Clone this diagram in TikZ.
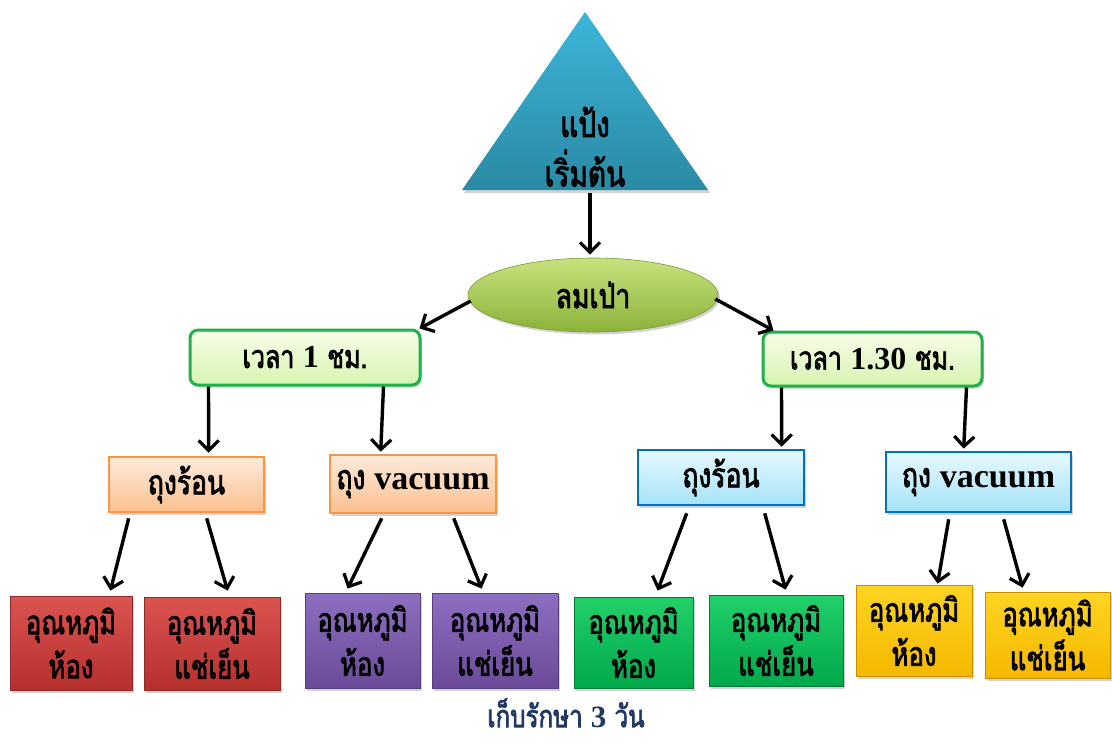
\documentclass[tikz,border=0pt]{standalone}
\usepackage{fontspec}
\setmainfont{Liberation Serif}
\newfontfamily\thai[Script=Thai,FakeStretch=0.78,FakeBold=2.2]{Loma}
\usetikzlibrary{arrows.meta,shadows,shapes.geometric,calc}
\definecolor{triT}{HTML}{3CB5D9}
\definecolor{triB}{HTML}{2A8AA3}
\definecolor{ellT}{HTML}{C8E27E}
\definecolor{ellB}{HTML}{8AB23A}
\definecolor{ellD}{HTML}{7A9A30}
\definecolor{tmD}{HTML}{1EB14C}
\definecolor{tmT}{HTML}{F8FDE8}
\definecolor{tmB}{HTML}{D6F4B0}
\definecolor{orD}{HTML}{F79646}
\definecolor{orT}{HTML}{FDEADB}
\definecolor{orB}{HTML}{FBC08F}
\definecolor{blD}{HTML}{0070C0}
\definecolor{blT}{HTML}{E6F9FF}
\definecolor{blB}{HTML}{A6E3F7}
\definecolor{rdT}{HTML}{DB5450}
\definecolor{rdB}{HTML}{B52F2D}
\definecolor{rdD}{HTML}{8F2A2A}
\definecolor{puT}{HTML}{8E6EBF}
\definecolor{puB}{HTML}{6A4B99}
\definecolor{puD}{HTML}{56407A}
\definecolor{gnT}{HTML}{22D06A}
\definecolor{gnB}{HTML}{00A84A}
\definecolor{gnD}{HTML}{00783A}
\definecolor{ywT}{HTML}{FFD422}
\definecolor{ywB}{HTML}{F5B800}
\definecolor{ywD}{HTML}{C49000}
\definecolor{capC}{HTML}{1F3864}
\tikzset{
  arr/.style={line width=3.4pt,-{Straight Barb[length=10pt,width=20pt,line width=3.2pt]}},
  sh/.style={drop shadow={shadow xshift=2pt,shadow yshift=-2.5pt,opacity=0.35}},
  timebox/.style={sh,draw=tmD,line width=3pt,rounded corners=8pt,top color=tmT,bottom color=tmB,
     font=\thai\fontsize{32}{34}\selectfont},
  orbox/.style={sh,draw=orD,line width=2.6pt,top color=orT,bottom color=orB,
     font=\thai\fontsize{34}{36}\selectfont},
  blbox/.style={sh,draw=blD,line width=2.6pt,top color=blT,bottom color=blB,
     font=\thai\fontsize{34}{36}\selectfont},
  tempbox/.style={sh,line width=0.8pt,align=center,inner sep=0pt,
     font=\thai\fontsize{33}{44}\selectfont},
  rdbox/.style={tempbox,draw=rdD,top color=rdT,bottom color=rdB},
  pubox/.style={tempbox,draw=puD,top color=puT,bottom color=puB},
  gnbox/.style={tempbox,draw=gnD,top color=gnT,bottom color=gnB},
  ywbox/.style={tempbox,draw=ywD,top color=ywT,bottom color=ywB},
}
\newcommand{\latb}[1]{{\rmfamily\bfseries #1}}
\begin{document}
\begin{tikzpicture}[x=1pt,y=-1pt]
\useasboundingbox (0,0) rectangle (1112,744);
% triangle
\shade[top color=triT,bottom color=triB,drop shadow={shadow xshift=2pt,shadow yshift=-3pt,opacity=0.35}]
  (585,12) -- (708,190) -- (462,190) -- cycle;
\node[font=\thai\fontsize{36}{38}\selectfont] (tri1) at (585,122) {แป้ง};
\node[font=\thai\fontsize{36}{38}\selectfont] (tri2) at (585,168) {เริ่มต้น};
\coordinate (trib) at (590,193);
% ellipse
\node[ellipse,sh,draw=ellD,line width=0.6pt,top color=ellT,bottom color=ellB,
  minimum width=250pt,minimum height=74pt,font=\thai\fontsize{34}{36}\selectfont]
  (lom) at (593,295) {ลมเป่า};
% time boxes
\node[timebox,minimum width=230pt,minimum height=55pt] (t1) at (305,357.5) {เวลา \latb{1} ชม.};
\node[timebox,minimum width=219pt,minimum height=54pt] (t2) at (872.5,359) {เวลา \latb{1.30} ชม.};
% bag boxes
\node[orbox,minimum width=155pt,minimum height=55pt] (o1) at (186.5,484.5) {ถุงร้อน};
\node[orbox,minimum width=166pt,minimum height=58pt] (o2) at (413,484) {ถุง \latb{vacuum}};
\node[blbox,minimum width=166pt,minimum height=55pt] (b1) at (721,477.5) {ถุงร้อน};
\node[blbox,minimum width=185pt,minimum height=60pt] (b2) at (978.5,482) {ถุง \latb{vacuum}};
% temperature boxes
\node[rdbox,minimum width=122pt,minimum height=94pt] (r1) at (71,643) {อุณหภูมิ\\ห้อง};
\node[rdbox,minimum width=136pt,minimum height=93pt] (r2) at (212,643.5) {อุณหภูมิ\\แช่เย็น};
\node[pubox,minimum width=115pt,minimum height=95pt] (p1) at (362.5,640.5) {อุณหภูมิ\\ห้อง};
\node[pubox,minimum width=126pt,minimum height=95pt] (p2) at (495,640.5) {อุณหภูมิ\\แช่เย็น};
\node[gnbox,minimum width=119pt,minimum height=91pt] (g1) at (633.5,642.5) {อุณหภูมิ\\ห้อง};
\node[gnbox,minimum width=134pt,minimum height=91pt] (g2) at (776,640.5) {อุณหภูมิ\\แช่เย็น};
\node[ywbox,minimum width=116pt,minimum height=91pt] (y1) at (914,630.5) {อุณหภูมิ\\ห้อง};
\node[ywbox,minimum width=125pt,minimum height=86pt] (y2) at (1047.5,635) {อุณหภูมิ\\แช่เย็น};
% caption
\node[text=capC,inner sep=0pt,font=\thai\fontsize{31}{33}\selectfont] (cap) at (566,713) {เก็บรักษา \latb{3} วัน};
% arrows
\draw[arr] (trib) -- ($(lom.north)+(-3,-3)$);
\draw[arr] ($(lom.west)+(3,6)$) -- ($(t1.north east)+(-2,0)$);
\draw[arr] ($(lom.east)+(-3,4)$) -- ($(t2.north west)+(12,0)$);
\draw[arr] ($(t1.south west)+(20,0)$) -- ($(o1.north west)+(101,-3)$);
\draw[arr] ($(t1.south east)+(-38,0)$) -- ($(o2.north west)+(52,-2)$);
\draw[arr] ($(t2.south west)+(20,0)$) -- ($(b1.north west)+(145,-2)$);
\draw[arr] ($(t2.south east)+(-17,0)$) -- ($(b2.north west)+(79,-2)$);
\draw[arr] ($(o1.south west)+(21,5)$) -- ($(r1.north east)+(-22,-5)$);
\draw[arr] ($(o1.south west)+(99,5)$) -- ($(r2.north west)+(84,-6)$);
\draw[arr] ($(o2.south west)+(53,4)$) -- ($(p1.north west)+(43,-4)$);
\draw[arr] ($(o2.south west)+(125,4)$) -- ($(p2.north west)+(50,-4)$);
\draw[arr] ($(b1.south west)+(50,7)$) -- ($(g1.north west)+(84,-6)$);
\draw[arr] ($(b1.south west)+(128,7)$) -- ($(g2.north west)+(77,-5)$);
\draw[arr] ($(b2.south west)+(64,6)$) -- ($(y1.north west)+(82,-1)$);
\draw[arr] ($(b2.south west)+(119,6)$) -- ($(y2.north west)+(38,-4)$);
\end{tikzpicture}
\end{document}
